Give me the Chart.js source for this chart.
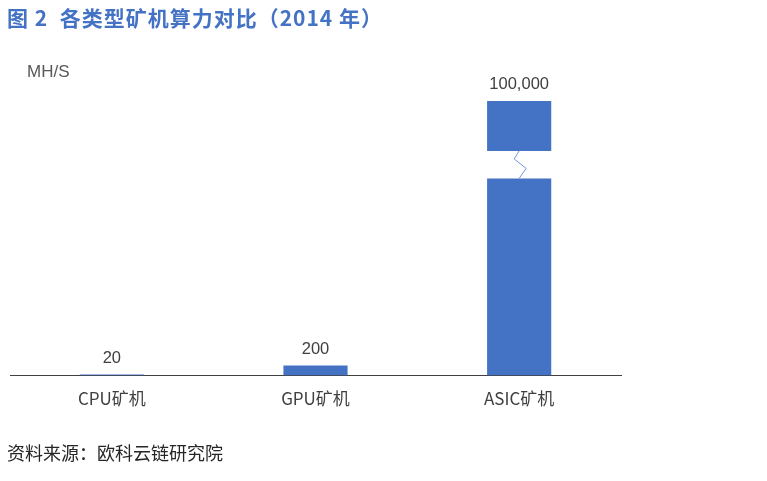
<!DOCTYPE html>
<html>
<head>
<meta charset="utf-8">
<script src="https://cdn.jsdelivr.net/npm/chart.js@4/dist/chart.umd.min.js"></script>
<style>
  html, body { margin: 0; padding: 0; background: #fff; }
  #wrap { position: relative; width: 767px; height: 481px; overflow: hidden; }
  #c { position: absolute; left: 0; top: 0; }
  .txt { position: absolute; white-space: nowrap; font-family: "Noto Sans CJK SC", "Liberation Sans", sans-serif; }
  #titulo { left: 7px; top: 2px; font-size: 21px; letter-spacing: 1px; font-weight: bold; color: #4472C4; }
  #unidad { left: 27px; top: 62px; font-size: 17px; color: #595959; font-family: "Liberation Sans", sans-serif; }
  #fuente { left: 7px; top: 439px; font-size: 18px; color: #262626; }
</style>
</head>
<body>
<div id="wrap">
  <canvas id="c" width="767" height="481"></canvas>
  <div class="txt" id="titulo">图 2&nbsp; 各类型矿机算力对比（2014 年）</div>
  <div class="txt" id="unidad">MH/S</div>
  <div class="txt" id="fuente">资料来源：欧科云链研究院</div>
</div>
<script>
// datos
const categorias = ['CPU矿机', 'GPU矿机', 'ASIC矿机'];
const valores = [20, 200, 100000];

// corte del eje: se salta de 3950 a 99000 dejando un hueco
const corteDesde = 3950;
const corteHasta = 99000;
const hueco = 550;

function aEscala(v) {
  if (v <= corteDesde) return v;
  return corteDesde + hueco + (v - corteHasta);
}

const azul = '#4472C4';

const tramoBajo = valores.map(v => Math.min(v, corteDesde));
const tramoAlto = valores.map(v => v > corteHasta ? [corteDesde + hueco, aEscala(v)] : null);

const etiquetasPlugin = {
  id: 'etiquetas',
  afterDatasetsDraw(chart) {
    const ctx = chart.ctx;
    const bajo = chart.getDatasetMeta(0).data;
    const alto = chart.getDatasetMeta(1).data;
    ctx.save();
    ctx.font = '16.5px "Liberation Sans", sans-serif';
    ctx.fillStyle = '#404040';
    ctx.textAlign = 'center';
    ctx.textBaseline = 'bottom';
    valores.forEach((v, i) => {
      const el = tramoAlto[i] ? alto[i] : bajo[i];
      ctx.fillText(v.toLocaleString('en-US'), el.x, el.y - 8);
      // zigzag del corte
      if (tramoAlto[i]) {
        const y1 = alto[i].base;
        const y2 = bajo[i].y;
        const x = el.x;
        ctx.beginPath();
        ctx.strokeStyle = '#6F97DC';
        ctx.lineWidth = 1;
        ctx.moveTo(x, y1);
        ctx.lineTo(x - 5, y1 + 8);
        ctx.lineTo(x + 7, y2 - 10);
        ctx.lineTo(x, y2);
        ctx.stroke();
      }
    });
    ctx.restore();
  }
};

new Chart(document.getElementById('c'), {
  type: 'bar',
  data: {
    labels: categorias,
    datasets: [
      { data: tramoBajo, backgroundColor: azul, borderWidth: 0 },
      { data: tramoAlto, backgroundColor: azul, borderWidth: 0 }
    ]
  },
  options: {
    responsive: false,
    animation: false,
    devicePixelRatio: 1,
    layout: { padding: { top: 101, left: 10, right: 146, bottom: 59 } },
    datasets: { bar: { grouped: false, barPercentage: 1, categoryPercentage: 0.315 } },
    plugins: { legend: { display: false }, tooltip: { enabled: false } },
    scales: {
      x: {
        grid: { display: false, drawTicks: false },
        border: { display: true, color: '#404040', width: 1 },
        ticks: { color: '#404040', padding: 13, font: { size: 17, family: '"Noto Sans CJK SC", "Liberation Sans", sans-serif' } }
      },
      y: {
        display: false,
        min: 0,
        max: aEscala(Math.max(...valores))
      }
    }
  },
  plugins: [etiquetasPlugin]
});
</script>
</body>
</html>
